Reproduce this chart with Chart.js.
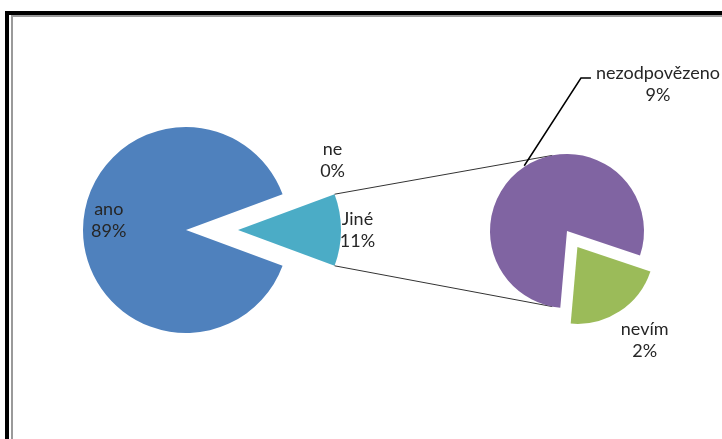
<!DOCTYPE html>
<html>
<head>
<meta charset="utf-8">
<script src="https://cdn.jsdelivr.net/npm/chart.js@4.4.1/dist/chart.umd.min.js"></script>
<style>
  html, body { margin: 0; padding: 0; background: #fff; }
  #stage { position: relative; width: 722px; height: 439px; overflow: hidden; background: #fff; }
  #frame { position: absolute; left: 5px; top: 11px; width: 800px; height: 500px; border-left: 4px solid #000; border-top: 4px solid #000; }
  #frame-inner { position: absolute; left: 2px; top: 0; width: 800px; height: 500px; border-left: 2px solid #9a9a9a; border-top: 2px solid #9a9a9a; }
  canvas { position: absolute; left: 0; top: 0; }
</style>
</head>
<body>
<div id="stage">
  <div id="frame"><div id="frame-inner"></div></div>
  <canvas id="main-pie" width="722" height="439"></canvas>
  <canvas id="other-pie" width="722" height="439"></canvas>
</div>
<script>
// main pie: last slice ("Jiné") is broken out into the second pie
const mainLabels = ['ano', 'ne', 'Jiné'];
const mainValues = [88.7, 0, 11.3];

const otherLabels = ['nezodpovězeno', 'nevím'];
const otherValues = [8.9, 2.4];

const mainColors = ['#4f81bd', '#c0504d', '#4bacc6'];
const otherColors = ['#8064a2', '#9bbb59'];

const total = mainValues.reduce((a, b) => a + b, 0);
const labelFont = '18px Lato';
const lineHeight = 22;

function pct(v) {
    return Math.round(v / total * 100) + '%';
}

// pulls single slices out of the pie, Excel style (plain shift, no resize)
const explode = {
    id: 'explode',
    afterDatasetsUpdate(chart, args, opts) {
        const meta = chart.getDatasetMeta(0);
        meta.data.forEach((arc, i) => {
            const d = (opts.offsets || [])[i] || 0;
            if (!d) return;
            const mid = (arc.startAngle + arc.endAngle) / 2;
            arc.x += Math.cos(mid) * d;
            arc.y += Math.sin(mid) * d;
        });
    }
};

const sliceLabels = {
    id: 'sliceLabels',
    afterDatasetsDraw(chart, args, opts) {
        const meta = chart.getDatasetMeta(0);
        const ctx = chart.ctx;
        ctx.save();
        ctx.font = labelFont;
        ctx.fillStyle = '#262626';
        ctx.textAlign = 'center';
        ctx.textBaseline = 'middle';
        meta.data.forEach((arc, i) => {
            const place = opts.places[i];
            const lines = opts.text(i);
            const mid = (arc.startAngle + arc.endAngle) / 2;
            let x, y;
            if (place.free) {
                x = arc.x + place.dx;
                y = arc.y + place.dy;
            } else {
                x = arc.x + Math.cos(mid) * arc.outerRadius * place.k + (place.dx || 0);
                y = arc.y + Math.sin(mid) * arc.outerRadius * place.k + (place.dy || 0);
            }
            const top = y - (lines.length - 1) / 2 * lineHeight;
            lines.forEach((t, j) => ctx.fillText(t, x, top + j * lineHeight));

            if (place.leader) {
                const w = Math.max(...lines.map(t => ctx.measureText(t).width));
                const left = x - w / 2 - 5;
                const ly = top + 5;
                const r = arc.outerRadius + 1;
                ctx.beginPath();
                ctx.moveTo(arc.x + Math.cos(mid) * r, arc.y + Math.sin(mid) * r);
                ctx.lineTo(left - 10, ly);
                ctx.lineTo(left, ly);
                ctx.strokeStyle = '#000';
                ctx.lineWidth = 1.5;
                ctx.stroke();
            }
        });
        ctx.restore();
    }
};

const mainChart = new Chart(document.getElementById('main-pie'), {
    type: 'pie',
    data: {
        labels: mainLabels,
        datasets: [{
            data: mainValues,
            backgroundColor: mainColors,
            borderWidth: 0,
            hoverOffset: 0,
            radius: 103,
            // center the broken-out slice on the right side
            rotation: 90 + mainValues[2] / total * 180
        }]
    },
    options: {
        responsive: false,
        animation: false,
        events: [],
        layout: { padding: { left: 0, right: 350, top: 21, bottom: 0 } },
        plugins: {
            legend: { display: false },
            tooltip: { enabled: false },
            explode: { offsets: [0, 0, 52] },
            sliceLabels: {
                places: [
                    { k: 0.75, dy: -10 },
                    { k: 1.58, dx: -6, dy: -13 },
                    { k: 1.16 }
                ],
                text: i => [mainLabels[i], pct(mainValues[i])]
            }
        }
    },
    plugins: [explode, sliceLabels]
});

// lines joining the "Jiné" slice to the second pie
const connectors = {
    id: 'connectors',
    beforeDatasetsDraw(chart, args, opts) {
        const src = mainChart.getDatasetMeta(0).data[2];
        const dst = chart.getDatasetMeta(0).data[0];
        const ctx = chart.ctx;
        const a = opts.angle * Math.PI / 180;
        const ends = [
            [src.startAngle, -a],
            [src.endAngle, a]
        ];
        ctx.save();
        ctx.strokeStyle = '#333';
        ctx.lineWidth = 1;
        ends.forEach(([from, to]) => {
            ctx.beginPath();
            ctx.moveTo(src.x + Math.cos(from) * src.outerRadius, src.y + Math.sin(from) * src.outerRadius);
            ctx.lineTo(dst.x + Math.cos(to) * dst.outerRadius, dst.y + Math.sin(to) * dst.outerRadius);
            ctx.stroke();
        });
        ctx.restore();
    }
};

new Chart(document.getElementById('other-pie'), {
    type: 'pie',
    data: {
        labels: otherLabels,
        datasets: [{
            data: otherValues,
            backgroundColor: otherColors,
            borderWidth: 0,
            hoverOffset: 0,
            radius: 77,
            rotation: 185
        }]
    },
    options: {
        responsive: false,
        animation: false,
        events: [],
        layout: { padding: { left: 412, right: 0, top: 23, bottom: 0 } },
        plugins: {
            legend: { display: false },
            tooltip: { enabled: false },
            explode: { offsets: [0, 19] },
            connectors: { angle: 101 },
            sliceLabels: {
                places: [
                    { free: true, dx: 91, dy: -147, leader: true },
                    { k: 1.5, dx: 4, dy: -3 }
                ],
                text: i => [otherLabels[i], pct(otherValues[i])]
            }
        }
    },
    plugins: [explode, connectors, sliceLabels]
});
</script>
</body>
</html>
